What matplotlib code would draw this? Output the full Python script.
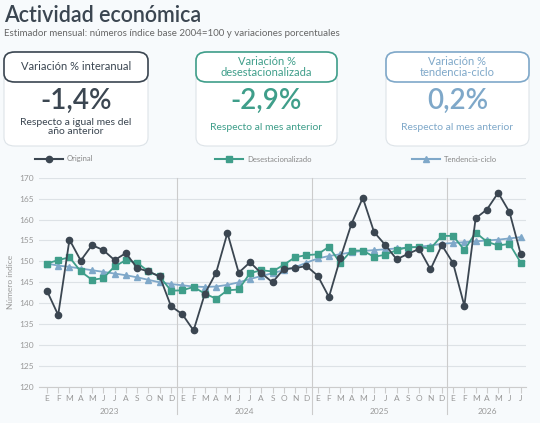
import matplotlib
matplotlib.use("Agg")
import matplotlib.pyplot as plt
from matplotlib.patches import FancyBboxPatch
from matplotlib.lines import Line2D

plt.rcParams['font.family'] = ['Lato', 'DejaVu Sans']

months = ["E","F","M","A","M","J","J","A","S","O","N","D"]
years = ["2023", "2024", "2025", "2026"]
month_labels = months*3 + months[:7]

original = [143.0,137.2,155.2,150.2,153.9,152.7,150.3,152.0,148.4,147.6,146.4,139.3,
            137.4,133.5,142.3,147.3,156.8,147.3,149.8,147.2,145.0,148.2,148.4,148.9,
            146.6,141.5,150.7,159.0,165.2,157.0,153.9,150.5,151.8,153.0,148.1,153.9,
            149.6,139.4,160.3,162.4,166.4,161.8,151.7]
desest = [149.5,150.3,151.0,147.6,145.6,146.0,148.8,150.3,149.7,147.6,146.4,143.0,
          143.1,143.9,142.3,141.1,143.1,143.3,147.2,147.9,147.6,149.2,151.0,151.5,
          151.7,153.5,149.6,152.6,152.6,151.1,151.6,152.7,153.4,153.4,153.1,156.1,
          156.1,152.7,156.9,154.7,153.8,154.2,149.7]
tendencia = [149.5,149.0,148.7,148.3,147.9,147.5,147.1,146.7,146.2,145.6,145.0,144.6,
             144.3,144.0,143.9,144.0,144.4,145.0,145.8,146.5,147.2,147.9,148.6,149.7,
             150.7,151.3,151.7,152.2,152.5,152.7,152.9,153.1,153.3,153.5,153.8,154.2,
             154.4,154.6,154.8,155.0,155.2,155.5,155.8]

DARK = "#3b4651"; GREEN = "#3f9e8a"; BLUE = "#7fa8c9"; BG = "#f7fafc"

W, H = 540, 423
fig = plt.figure(figsize=(5.4, 4.23), dpi=100, facecolor=BG)

def fx(px): return px / W
def fy(py): return 1 - py / H

fig.text(fx(4), fy(16), "Actividad económica", fontsize=15.5, color=DARK, va="center", ha="left",
         fontweight="semibold")
fig.text(fx(4), fy(34), "Estimador mensual: números índice base 2004=100 y variaciones porcentuales",
         fontsize=7, color="#666666", va="center", ha="left")

boxes = [
    (4, 148, "Variación % interanual", "-1,4%", "Respecto a igual mes del\naño anterior", DARK),
    (196, 337, "Variación %\ndesestacionalizada", "-2,9%", "Respecto al mes anterior", GREEN),
    (386, 529, "Variación %\ntendencia-ciclo", "0,2%", "Respecto al mes anterior", BLUE),
]
for x0, x1, title, val, sub, col in boxes:
    top, bot, hdr = 52, 146, 82
    fig.patches.append(FancyBboxPatch((fx(x0), fy(bot)), fx(x1 - x0), (bot - top) / H,
                                      boxstyle="round,pad=0,rounding_size=0.02",
                                      transform=fig.transFigure, facecolor="white",
                                      edgecolor="#dde3e8", lw=0.8))
    fig.patches.append(FancyBboxPatch((fx(x0), fy(hdr)), fx(x1 - x0), (hdr - top) / H,
                                      boxstyle="round,pad=0,rounding_size=0.02",
                                      transform=fig.transFigure, facecolor="white",
                                      edgecolor=col, lw=1.2))
    cx = fx((x0 + x1) / 2)
    fig.text(cx, fy(67), title, ha="center", va="center", fontsize=8, color=col, linespacing=0.95)
    fig.text(cx, fy(101), val, ha="center", va="center", fontsize=20, color=col, fontweight="semibold")
    fig.text(cx, fy(127), sub, ha="center", va="center", fontsize=7.5, color=col, linespacing=0.95)

for (lx, lab, col, mk) in [(35, "Original", DARK, "o"), (215, "Desestacionalizado", GREEN, "s"),
                            (412, "Tendencia-ciclo", BLUE, "^")]:
    fig.lines.append(Line2D([fx(lx), fx(lx + 28)], [fy(159), fy(159)], transform=fig.transFigure,
                            color=col, lw=1.5))
    fig.lines.append(Line2D([fx(lx + 14)], [fy(159)], transform=fig.transFigure, color=col,
                            marker=mk, ms=4.5))
    fig.text(fx(lx + 32), fy(159), lab, fontsize=5.5, color="#888888", va="center")

x = list(range(len(original)))
left, right = 39, 526.4
ax = fig.add_axes([fx(left), fy(387), fx(right - left), (387 - 177.7) / H])
ax.set_facecolor(BG)
ax.set_xlim(-0.7, 42.5)
ax.set_ylim(120, 170)
ax.set_yticks(range(120, 171, 5))
ax.grid(axis="y", color="#dde2e6", lw=0.8)
ax.set_axisbelow(True)
for s in ["top", "right", "left"]:
    ax.spines[s].set_visible(False)
ax.spines["bottom"].set_color("#cccccc")
ax.tick_params(axis="y", length=0, labelsize=6, labelcolor="#999999")
ax.set_xticks(x)
ax.set_xticklabels(month_labels, fontsize=6, color="#999999")
ax.tick_params(axis="x", length=4, color="#cccccc", pad=2)
ax.set_ylabel("Número índice", fontsize=6, color="#999999")

for b in [11.5, 23.5, 35.5]:
    ax.axvline(b, color="#cccccc", lw=0.8, ymin=-0.13, ymax=1, clip_on=False)
for i, yr in enumerate(years):
    start = i * 12
    end = min(start + 11, len(x) - 1)
    ax.text((start + end) / 2, -0.115, yr, transform=ax.get_xaxis_transform(),
            ha="center", va="center", fontsize=6, color="#999999")

ax.plot(x, tendencia, color=BLUE, marker="^", ms=4, lw=1.3, zorder=3)
ax.plot(x, desest, color=GREEN, marker="s", ms=4, lw=1.3, zorder=4)
ax.plot(x, original, color=DARK, marker="o", ms=4.5, lw=1.3, zorder=5)

fig.savefig("out.png", dpi=100, facecolor=BG)
